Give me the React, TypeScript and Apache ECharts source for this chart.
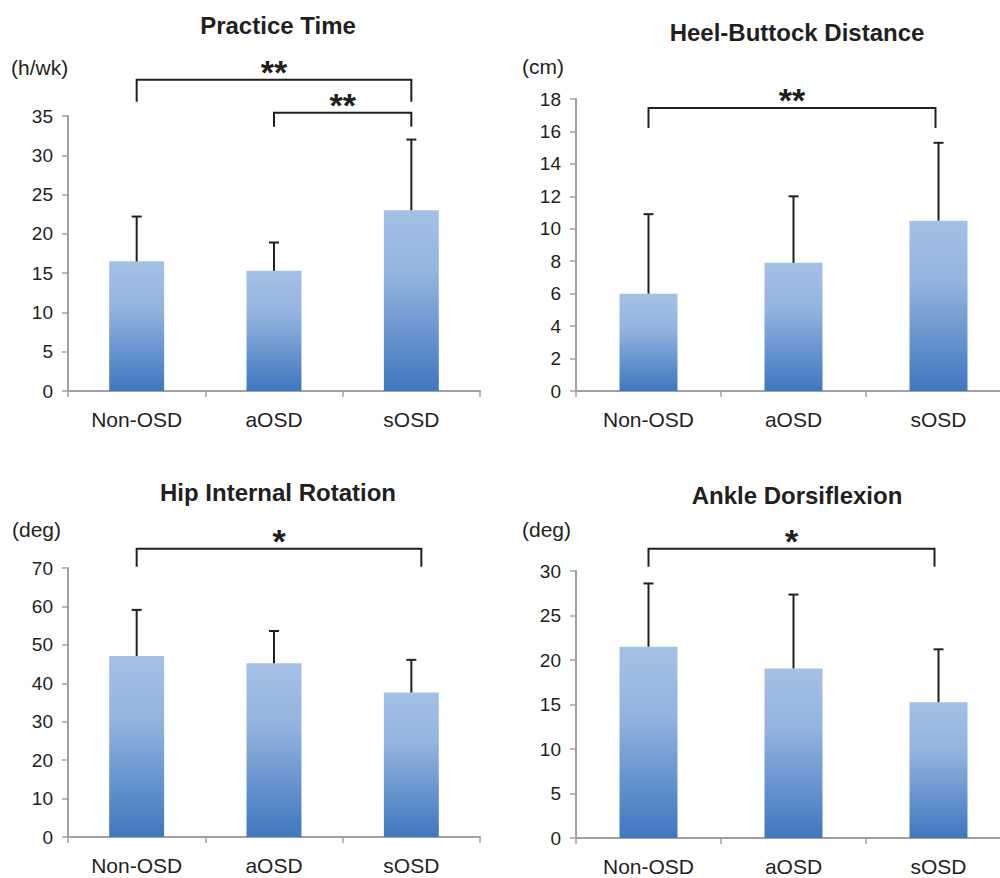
import React, { useEffect, useRef } from "react";
import * as echarts from "echarts";

// ---------- data ----------
const categories = ["Non-OSD", "aOSD", "sOSD"];
const titles = ["Practice Time", "Heel-Buttock Distance", "Hip Internal Rotation", "Ankle Dorsiflexion"];
const units = ["(h/wk)", "(cm)", "(deg)", "(deg)"];

const practiceMean = [16.5, 15.3, 23.0];
const practiceUpper = [22.2, 18.9, 32.0];
const heelMean = [6.0, 7.9, 10.5];
const heelUpper = [10.9, 12.0, 15.3];
const hipMean = [47.1, 45.2, 37.6];
const hipUpper = [59.1, 53.6, 46.1];
const ankleMean = [21.5, 19.05, 15.25];
const ankleUpper = [28.6, 27.35, 21.2];

const yMax = [35, 18, 70, 30];
const yInterval = [5, 2, 10, 5];

// significance brackets: panel, from category, to category, height (data units), label
const bracketPanel = [0, 0, 1, 2, 3];
const bracketFrom = [0, 1, 0, 0, 0];
const bracketTo = [2, 2, 2, 2, 2];
const bracketValue = [39.6, 35.4, 17.45, 75, 32.5];
const bracketLabel = ["**", "**", "**", "*", "*"];

// ---------- layout / style ----------
const FONT = "'Liberation Sans', Arial, Helvetica, sans-serif";
const TEXT = "#231f20";
const AXIS = "#a0a0a4";
const grids = [
  { left: 68, top: 116, width: 412, height: 275 },
  { left: 576, top: 99, width: 435, height: 292 },
  { left: 68, top: 568, width: 412, height: 269 },
  { left: 576, top: 571, width: 435, height: 267 },
];
const titlePos = [
  { x: 273, top: 8 },
  { x: 792, top: 15 },
  { x: 273, top: 475 },
  { x: 792, top: 478 },
];
const unitPos = [
  { x: 11, y: 67 },
  { x: 522, y: 66 },
  { x: 12, y: 529 },
  { x: 522, y: 529 },
];
const bracketLeg = [22, 14, 20, 18, 18];
const bracketDxRight = [0, 0, -3, 10, -4];

const means = [practiceMean, heelMean, hipMean, ankleMean];
const uppers = [practiceUpper, heelUpper, hipUpper, ankleUpper];

export default function App() {
  const ref = useRef<HTMLDivElement>(null);
  useEffect(() => {
    if (!ref.current) return;
    const chart = echarts.init(ref.current, undefined, { renderer: "svg" });

    const barColor = new echarts.graphic.LinearGradient(0, 0, 0, 1, [
      { offset: 0, color: "#a4c0e5" },
      { offset: 0.35, color: "#94b4df" },
      { offset: 1, color: "#3e77bf" },
    ]);

    const xAxes = grids.map((_, i) => ({
      type: "category",
      gridIndex: i,
      data: categories,
      axisLine: { lineStyle: { color: AXIS, width: 2 } },
      axisTick: { show: true, length: 6, lineStyle: { color: AXIS, width: 1.5 } },
      axisLabel: { color: TEXT, fontSize: 21, fontFamily: FONT, margin: 18 },
    }));
    const yAxes = grids.map((_, i) => ({
      type: "value",
      gridIndex: i,
      min: 0,
      max: yMax[i],
      interval: yInterval[i],
      splitLine: { show: false },
      axisLine: { show: true, lineStyle: { color: AXIS, width: 2 } },
      axisTick: { show: true, length: 6, lineStyle: { color: AXIS, width: 1.5 } },
      axisLabel: { color: TEXT, fontSize: 19, fontFamily: FONT, margin: 15 },
    }));

    const series: any[] = [];
    grids.forEach((_, i) => {
      series.push({
        type: "bar",
        xAxisIndex: i,
        yAxisIndex: i,
        data: means[i],
        barWidth: "40%",
        itemStyle: { color: barColor },
        z: 2,
      });
      series.push({
        type: "custom",
        xAxisIndex: i,
        yAxisIndex: i,
        data: means[i].map((m, k) => [k, m, uppers[i][k]]),
        encode: { x: 0, y: [1, 2] },
        z: 5,
        renderItem: (params: any, api: any) => {
          const bottom = api.coord([api.value(0), api.value(1)]);
          const top = api.coord([api.value(0), api.value(2)]);
          const st = { stroke: TEXT, lineWidth: 2 };
          return {
            type: "group",
            children: [
              { type: "line", shape: { x1: top[0], y1: bottom[1], x2: top[0], y2: top[1] }, style: st },
              { type: "line", shape: { x1: top[0] - 5, y1: top[1], x2: top[0] + 5, y2: top[1] }, style: st },
            ],
          };
        },
      });
    });

    chart.setOption({
      animation: false,
      backgroundColor: "#ffffff",
      title: titles.map((t, i) => ({
        text: t,
        left: titlePos[i].x,
        top: titlePos[i].top,
        textAlign: "center",
        textStyle: { fontFamily: FONT, fontSize: 24, fontWeight: "bold", color: TEXT },
      })),
      grid: grids,
      xAxis: xAxes,
      yAxis: yAxes,
      series,
    });

    const graphics: any[] = [];
    units.forEach((u, i) => {
      graphics.push({
        type: "text",
        x: unitPos[i].x,
        y: unitPos[i].y,
        style: { text: u, fontFamily: FONT, fontSize: 21, fill: TEXT, align: "left", verticalAlign: "middle" },
      });
    });
    bracketPanel.forEach((p, b) => {
      const a = chart.convertToPixel({ gridIndex: p } as any, [bracketFrom[b], bracketValue[b]]) as number[];
      const c = chart.convertToPixel({ gridIndex: p } as any, [bracketTo[b], bracketValue[b]]) as number[];
      const x1 = a[0];
      const x2 = c[0] + bracketDxRight[b];
      const y = a[1];
      const leg = bracketLeg[b];
      graphics.push({
        type: "polyline",
        shape: { points: [[x1, y + leg], [x1, y], [x2, y], [x2, y + leg]] },
        style: { stroke: TEXT, lineWidth: 2, fill: "none" },
      });
      graphics.push({
        type: "text",
        x: (x1 + x2) / 2,
        y: y + 9,
        style: { text: bracketLabel[b], fontFamily: FONT, fontSize: 34, fontWeight: "bold", fill: TEXT, align: "center", verticalAlign: "bottom" },
      });
    });
    chart.setOption({ graphic: graphics });

    return () => chart.dispose();
  }, []);
  return (
    <div style={{ position: "absolute", left: 0, top: 0, width: 1000, height: 878, overflow: "hidden" }}>
      <div ref={ref} style={{ width: 1020, height: 878 }} />
    </div>
  );
}
